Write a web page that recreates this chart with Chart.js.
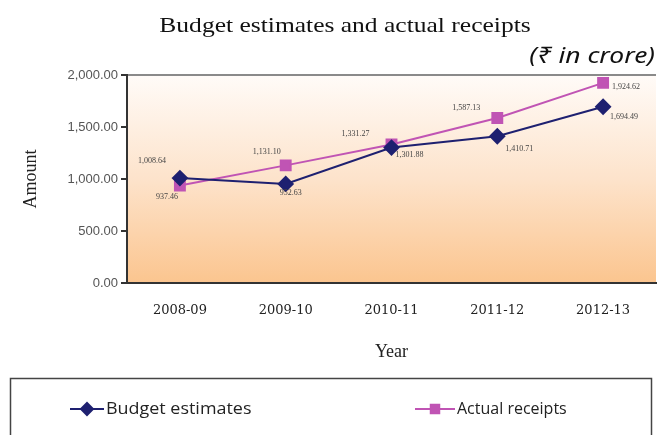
<!DOCTYPE html>
<html lang="en">
<head>
  <meta charset="UTF-8" />
  <title>Budget estimates and actual receipts</title>
  <style>
    html, body { margin: 0; padding: 0; background: #fff; }
  </style>
</head>
<body>
  <div style="width: 657px; height: 435px;">
    <canvas id="myChart"></canvas>
  </div>

  <script src="https://cdn.jsdelivr.net/npm/chart.js"></script>

  <script>
    // data
    const years = ['2008-09', '2009-10', '2010-11', '2011-12', '2012-13'];
    const budgetEstimates = [1008.64, 952.63, 1301.88, 1410.71, 1694.49];
    const actualReceipts = [937.46, 1131.10, 1331.27, 1587.13, 1924.62];
    const yTicks = [0, 500, 1000, 1500, 2000];

    const fmt = (v) => v.toLocaleString('en-US', { minimumFractionDigits: 2, maximumFractionDigits: 2 });

    // where each value label sits relative to its point (px)
    const labelOffsets = [
      [[-28, -17], [5, 9], [18, 7], [22, 13], [21, 10]],
      [[-13, 11], [-19, -13], [-36, -11], [-31, -10], [23, 4]]
    ];

    // draw text stretched sideways, the reference type is wide
    function wideText(ctx, text, x, y, sx) {
      ctx.save();
      ctx.translate(x, y);
      ctx.scale(sx, 1);
      ctx.fillText(text, 0, 0);
      ctx.restore();
    }

    // peach gradient behind the plot area
    const plotBackground = {
      id: 'plotBackground',
      beforeDraw(chart) {
        const { ctx, chartArea: a } = chart;
        const g = ctx.createLinearGradient(0, a.top, 0, a.bottom);
        g.addColorStop(0, '#fffbf8');
        g.addColorStop(0.5, '#fde3cb');
        g.addColorStop(1, '#fbc58f');
        ctx.save();
        ctx.fillStyle = g;
        ctx.fillRect(a.left, a.top, a.right - a.left, a.bottom - a.top);
        ctx.restore();
      }
    };

    // titles, value labels and the boxed legend
    const extras = {
      id: 'extras',
      afterDatasetsDraw(chart) {
        const ctx = chart.ctx;
        ctx.save();
        ctx.font = '8px "Liberation Serif"';
        ctx.fillStyle = '#444';
        ctx.textAlign = 'center';
        ctx.textBaseline = 'middle';
        chart.data.datasets.forEach((ds, i) => {
          chart.getDatasetMeta(i).data.forEach((pt, j) => {
            const o = labelOffsets[i][j];
            ctx.fillText(fmt(ds.data[j]), pt.x + o[0], pt.y + o[1]);
          });
        });
        ctx.restore();
      },
      afterDraw(chart) {
        const ctx = chart.ctx;
        ctx.save();
        ctx.fillStyle = '#111';
        ctx.textBaseline = 'middle';
        ctx.textAlign = 'center';
        ctx.font = '22px "Liberation Serif"';
        wideText(ctx, 'Budget estimates and actual receipts', 345, 26, 1.16);
        ctx.textAlign = 'right';
        ctx.font = 'italic 22px "Noto Sans"';
        wideText(ctx, '(₹ in crore)', 655, 57, 1.2);

        // legend box
        ctx.strokeStyle = '#444';
        ctx.lineWidth = 1.5;
        ctx.strokeRect(10.5, 378.5, 641, 70);
        const items = [
          { x: 70, w: 34, ds: chart.data.datasets[0], sx: 1.12 },
          { x: 415, w: 40, ds: chart.data.datasets[1], sx: 1.0 }
        ];
        ctx.font = '16px "Open Sans"';
        ctx.textAlign = 'left';
        items.forEach((it) => {
          const y = 409;
          ctx.strokeStyle = it.ds.borderColor;
          ctx.lineWidth = 2;
          ctx.beginPath();
          ctx.moveTo(it.x, y);
          ctx.lineTo(it.x + it.w, y);
          ctx.stroke();
          Chart.helpers.drawPoint(ctx, {
            pointStyle: it.ds.pointStyle,
            radius: it.ds.pointRadius - 1,
            borderWidth: 1
          }, it.x + it.w / 2, y);
          ctx.fillStyle = it.ds.backgroundColor;
          ctx.strokeStyle = it.ds.borderColor;
          ctx.fill();
          ctx.fillStyle = '#222';
          wideText(ctx, it.ds.label, it.x + it.w + 2, y, it.sx);
        });
        ctx.restore();
      }
    };

    const context = document.getElementById('myChart').getContext('2d');
    const myChart = new Chart(context, {
      type: 'line',
      data: {
        labels: years,
        datasets: [
          {
            label: 'Budget estimates',
            data: budgetEstimates,
            borderColor: '#1e2070',
            backgroundColor: '#1e2070',
            borderWidth: 2,
            pointStyle: 'rectRot',
            pointRadius: 7,
            tension: 0
          },
          {
            label: 'Actual receipts',
            data: actualReceipts,
            borderColor: '#c054b4',
            backgroundColor: '#c054b4',
            borderWidth: 2,
            pointStyle: 'rect',
            pointRadius: 7,
            tension: 0
          }
        ]
      },
      options: {
        responsive: true,
        maintainAspectRatio: false,
        animation: false,
        layout: { autoPadding: false, padding: { top: 75, right: 1, bottom: 62, left: 0 } },
        plugins: {
          legend: { display: false },
          title: { display: false },
          tooltip: { enabled: false }
        },
        scales: {
          x: {
            offset: true,
            grid: { display: false },
            border: { color: '#333', width: 2 },
            ticks: {
              padding: 12,
              color: '#222',
              font: { family: '"DejaVu Serif"', size: 13 }
            },
            title: {
              display: true,
              text: 'Year',
              color: '#222',
              font: { family: '"Liberation Serif"', size: 18 },
              padding: { top: 4, bottom: 10 }
            },
            afterFit(scale) { scale.height = 90; }
          },
          y: {
            min: 0,
            max: 2000,
            afterBuildTicks(scale) { scale.ticks = yTicks.map((v) => ({ value: v })); },
            grid: {
              drawOnChartArea: true,
              color: (c) => (c.tick && c.tick.value === 2000 ? '#8a8a8a' : 'rgba(0,0,0,0)'),
              tickColor: '#333',
              tickLength: 6,
              lineWidth: 2
            },
            border: { color: '#333', width: 2 },
            ticks: {
              padding: 3,
              color: '#555',
              font: { family: '"Liberation Sans"', size: 13 },
              callback: (v) => fmt(v)
            },
            title: {
              display: true,
              text: 'Amount',
              color: '#222',
              font: { family: '"Liberation Serif"', size: 18 },
              padding: { top: 20 }
            },
            afterFit(scale) { scale.width = 127; }
          }
        }
      },
      plugins: [plotBackground, extras]
    });
  </script>
</body>
</html>
